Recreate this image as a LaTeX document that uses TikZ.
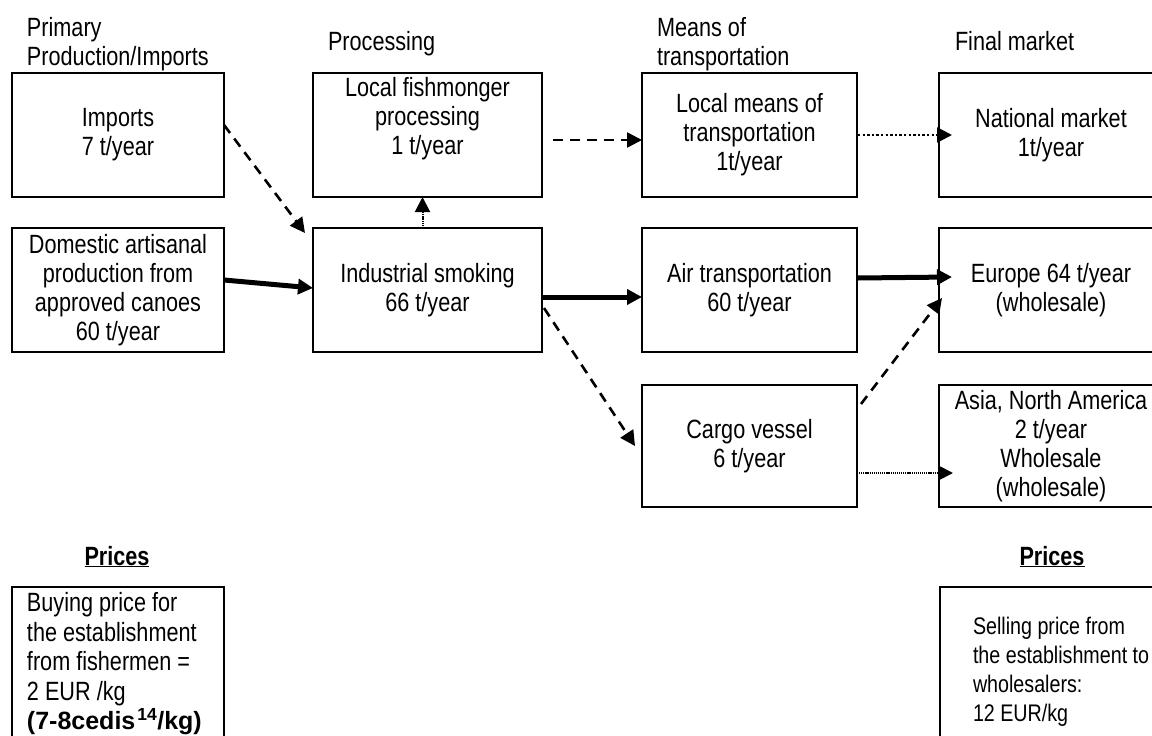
\documentclass[tikz,border=0pt]{standalone}
\usepackage{fontspec}
\setmainfont{Liberation Sans}[FakeStretch=0.82]
\newfontfamily\wideface{Liberation Sans}
\usetikzlibrary{arrows.meta}

\begin{document}
\begin{tikzpicture}[x=1pt,y=-1pt,
  every node/.style={inner sep=0pt, outer sep=0pt},
  box/.style={draw, line width=2pt, minimum height=124pt, align=center,
    font=\fontsize{26.4}{29}\selectfont},
  head/.style={align=left, anchor=north west, font=\fontsize{26.4}{29}\selectfont},
  pricehead/.style={anchor=base, font=\fontsize{26.4}{29}\selectfont\bfseries},
  pricetext/.style={align=left, anchor=north west, font=\fontsize{24}{29}\selectfont},
  frame/.style={line width=2pt},
  tip/.style={-{Triangle[length=15pt,width=15pt]}},
  dasharrow/.style={tip, line width=2.6pt, dash pattern=on 10pt off 7pt},
  thickarrow/.style={tip, line width=5pt},
  dotarrow/.style={tip, line width=2.6pt, dash pattern=on 2.4pt off 2.2pt},
  finedotarrow/.style={tip, line width=2pt, dash pattern=on 1.2pt off 0.9pt},
]
\useasboundingbox (0,0) rectangle (1152,736);
\clip (0,0) rectangle (1152,736);

% column headings
\node[head] (hprim) at (27,17) {Primary\\Production/Imports};
\node[head] (hproc) at (328,31) {Processing};
\node[head] (htrans) at (657,17) {Means of\\transportation};
\node[head] (hfinal) at (955,31) {Final market};

% flow boxes
\node[box, minimum width=212pt] (imp) at (118,135) {Imports\\7 t/year};
\node[box, minimum width=212pt] (dom) at (118,290)
  {Domestic artisanal\\production from\\approved canoes\\60 t/year};
\node[box, minimum width=229pt] (fish) at (427.5,135)
  {Local fishmonger\\processing\\1 t/year\\\strut};
\node[box, minimum width=229pt] (ind) at (427.5,290) {Industrial smoking\\66 t/year};
\node[box, minimum width=215pt] (lmeans) at (749.5,135)
  {Local means of\\transportation\\1t/year};
\node[box, minimum width=215pt] (air) at (749.5,290) {Air transportation\\60 t/year};
\node[box, minimum width=215pt, minimum height=122pt] (cargo) at (749.5,446)
  {Cargo vessel\\6 t/year};
\node[box, minimum width=224pt] (nat) at (1051,135) {National market\\1t/year};
\node[box, minimum width=224pt] (eur) at (1051,290) {Europe 64 t/year\\(wholesale)};
\node[box, minimum width=224pt, minimum height=122pt] (asia) at (1051,446)
  {Asia, North America\\2 t/year\\Wholesale\\(wholesale)};

% flows
\draw[dasharrow] ([yshift=10pt]imp.east) -- ([xshift=-8pt,yshift=-5pt]ind.north west);
\draw[thickarrow] ([yshift=10pt]dom.east) -- ([yshift=2pt]ind.west);
\draw[finedotarrow] ([xshift=-5pt]ind.north) -- ([xshift=-5pt]fish.south);
\draw[dasharrow] ([xshift=11pt,yshift=-5pt]fish.east) -- ([yshift=-5pt]lmeans.west);
\draw[dotarrow] ([xshift=1pt]lmeans.east) -- ([xshift=13pt]nat.west);
\draw[thickarrow] ([yshift=-7pt]ind.east) -- ([yshift=-7pt]air.west);
\draw[thickarrow] ([xshift=1pt,yshift=12pt]air.east) -- ([xshift=13pt,yshift=13pt]eur.west);
\draw[dasharrow] ([xshift=2pt,yshift=-18pt]ind.east) -- ([xshift=-7pt]cargo.west);
\draw[dasharrow] ([xshift=4pt,yshift=-19pt]cargo.north east) -- ([xshift=3pt,yshift=-8pt]eur.west);
\draw[finedotarrow] ([xshift=2pt,yshift=-27pt]cargo.east) -- ([xshift=14pt,yshift=-27pt]asia.west);

% prices
\node[pricehead] (pbuy) at (117,565) {\underline{Prices}};
\node[pricehead] (psell) at (1052,565) {\underline{Prices}};
\draw[frame] (12,587) rectangle (224,800);
\draw[frame] (940,587) rectangle (1170,800);
\node[pricetext, font=\fontsize{26.4}{29.5}\selectfont] (buy) at (27,592.7)
  {Buying price for\\the establishment\\from fishermen =\\2 EUR /kg\\
   {\wideface\fontsize{25}{29.5}\selectfont\bfseries (7-8cedis\kern2pt\textsuperscript{14}/kg)}};
\node[pricetext] (sell) at (973,617.5)
  {Selling price from\\the establishment to\\wholesalers:\\12 EUR/kg};
\end{tikzpicture}
\end{document}
